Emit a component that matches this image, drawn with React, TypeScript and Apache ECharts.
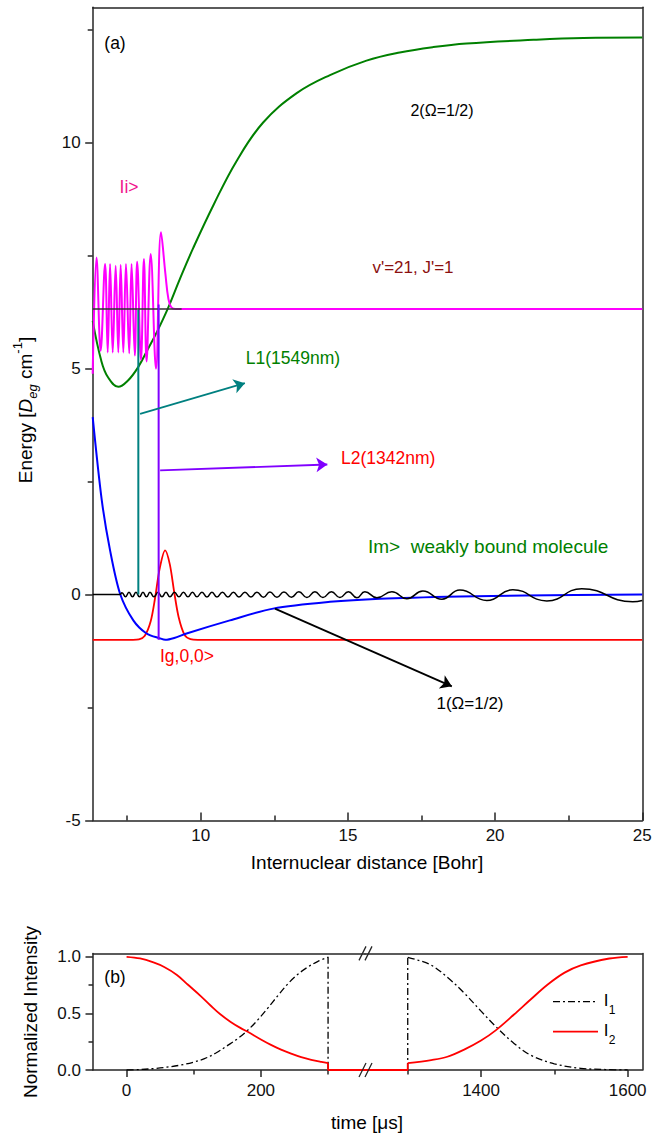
import React, { useEffect, useRef } from 'react';
import * as echarts from 'echarts';

const FONT = '"Liberation Sans", Arial, Helvetica, sans-serif';

// ---------------- panel (a): potentials and wavefunctions ----------------
const distanceTicks = [10, 15, 20, 25];
const distanceMinorTicks = [7.5, 12.5, 17.5, 22.5];
const energyTicks = [-5, 0, 5, 10];
const energyMinorTicks = [-2.5, 2.5, 7.5, 12.5];

// 2(Ω=1/2) upper potential (green)
const upperR = [6.33, 6.62, 6.85, 7.2, 7.53, 7.87, 8.21, 8.5, 8.9, 9.3, 9.75, 10.43, 11.22, 12.12, 13.26, 14.39, 15.63, 16.76, 17.9, 19.03, 21.3, 23, 25];
const upperE = [6.06, 5.18, 4.81, 4.6, 4.74, 5.03, 5.44, 5.8, 6.36, 7.0, 7.68, 8.62, 9.6, 10.45, 11.1, 11.5, 11.82, 12.0, 12.12, 12.2, 12.28, 12.32, 12.33];

// 1(Ω=1/2) lower potential (blue)
const lowerR = [6.33, 6.64, 6.92, 7.26, 7.71, 8.16, 8.62, 8.8, 9.1, 9.52, 10.99, 12.46, 14.39, 16.09, 18.81, 21, 25];
const lowerE = [3.93, 2.08, 0.98, 0.02, -0.57, -0.86, -0.97, -1.0, -0.96, -0.86, -0.57, -0.31, -0.16, -0.09, -0.04, -0.02, 0];

// |g,0,0> wavefunction (red)
const groundR = [6.33, 7.7, 7.9, 8.1, 8.3, 8.45, 8.6, 8.79, 8.95, 9.1, 9.25, 9.45, 9.65, 9.9, 25];
const groundE = [-1, -1, -0.99, -0.91, -0.59, -0.07, 0.56, 0.98, 0.67, 0.05, -0.5, -0.89, -0.985, -1, -1];

// |i> wavefunction (magenta)
const excitedR = [6.33, 6.46, 6.6, 6.75, 6.84, 6.92, 7.01, 7.11, 7.2, 7.28, 7.37, 7.46, 7.57, 7.65, 7.76, 7.84, 7.97, 8.07, 8.16, 8.3, 8.48, 8.65, 8.8, 8.9, 9.0, 9.15, 25];
const excitedE = [4.89, 7.46, 5.4, 7.32, 5.36, 7.32, 5.36, 7.28, 5.36, 7.3, 5.36, 7.32, 5.34, 7.32, 5.29, 7.37, 5.2, 7.43, 5.16, 7.54, 5.0, 8.02, 7.1, 6.55, 6.36, 6.32, 6.32];

// |m> weakly bound molecule wavefunction (black)
const moleculeR = [6.33, 7.247,
  7.325, 7.444, 7.563, 7.681, 7.80, 7.919, 8.038, 8.157, 8.276, 8.412,
  8.547, 8.683, 8.819, 8.955, 9.108, 9.26, 9.413, 9.566, 9.719, 9.872,
  10.041, 10.211, 10.381, 10.551, 10.737, 10.924, 11.111, 11.298, 11.501, 11.705,
  11.909, 12.13, 12.35, 12.588, 12.826, 13.08, 13.335, 13.607, 13.879, 14.15,
  14.439, 14.727, 15.016, 15.305, 15.576, 15.984, 16.493, 17.002, 17.546, 18.191,
  18.802, 19.719, 20.602, 21.756, 22.945, 24.676,
  25];
const moleculeE = [0, 0,
  0.04, -0.05, 0.05, -0.05, 0.05, -0.05, 0.05, -0.05, 0.05, -0.05,
  0.05, -0.05, 0.05, -0.05, 0.05, -0.05, 0.05, -0.05, 0.05, -0.05,
  0.055, -0.055, 0.055, -0.055, 0.055, -0.055, 0.055, -0.055, 0.055, -0.055,
  0.055, -0.06, 0.06, -0.06, 0.06, -0.06, 0.065, -0.065, 0.065, -0.065,
  0.065, -0.065, 0.065, -0.07, 0.065, -0.07, 0.065, -0.09, 0.08, -0.1,
  0.1, -0.13, 0.11, -0.14, 0.13, -0.16,
  -0.13];

// v'=21, J'=1 level (short black line)
const levelR = [6.33, 9.35];
const levelE = 6.32;

// laser transitions (vertical lines) and pointer arrows
const pumpR = 7.88; const pumpFrom = 0; const pumpTo = 6.3;
const dumpR = 8.57; const dumpFrom = -1; const dumpTo = 6.42;
const arrowL1 = [[7.94, 4.0], [11.5, 4.68]];
const arrowL2 = [[8.62, 2.75], [14.3, 2.88]];
const arrowPot = [[12.52, -0.31], [18.53, -2.03]];

// ---------------- panel (b): pulse intensities ----------------
const timeTicksLeft = [0, 200];
const timeMinorLeft = [100, 300];
const timeTicksRight = [1400, 1600];
const timeMinorRight = [1300, 1500];
const intensityTicks = [0, 0.5, 1.0];
const intensityMinor = [0.25, 0.75];

const i1LeftT = [0, 20, 41, 60, 81, 100, 116, 133, 150, 165, 181, 195, 210, 225, 240, 255, 270, 285, 300];
const i1LeftV = [0, 0.004, 0.013, 0.025, 0.044, 0.07, 0.1, 0.15, 0.215, 0.275, 0.355, 0.44, 0.545, 0.655, 0.76, 0.845, 0.91, 0.96, 0.995];
const i2LeftT = [0, 20, 40, 56, 75, 91, 110, 125, 140, 155, 170, 181, 200, 215, 230, 245, 260, 275, 290, 300];
const i2LeftV = [1.0, 0.985, 0.95, 0.91, 0.84, 0.755, 0.655, 0.57, 0.49, 0.425, 0.37, 0.335, 0.27, 0.222, 0.18, 0.145, 0.114, 0.09, 0.071, 0.06];
const i1RightT = [1300, 1314, 1332, 1354, 1377, 1400, 1420, 1445, 1468, 1500, 1536, 1570, 1600];
const i1RightV = [0.995, 0.97, 0.927, 0.82, 0.68, 0.52, 0.385, 0.235, 0.13, 0.055, 0.015, 0.004, 0];
const i2RightT = [1300, 1332, 1354, 1377, 1400, 1420, 1445, 1468, 1491, 1514, 1536, 1575, 1600];
const i2RightV = [0.06, 0.088, 0.117, 0.18, 0.26, 0.35, 0.49, 0.625, 0.755, 0.86, 0.925, 0.985, 1.0];
const pulseCutT = 300;
const pulseOnT = 1300;

const zip = (xs: number[], ys: number[]) => xs.map((x, i) => [x, ys[i]]);

const AX = { color: '#262626', width: 1.5 };
const LBL = { fontFamily: FONT, fontSize: 17, color: '#111' };

function mainAxis(extra: any) {
  return {
    type: 'value',
    splitLine: { show: false },
    axisLine: { show: true, onZero: false, lineStyle: AX },
    ...extra,
  };
}
function minorAxis(extra: any) {
  return {
    type: 'value',
    splitLine: { show: false },
    axisLine: { show: false, onZero: false },
    axisLabel: { show: false },
    ...extra,
  };
}
function lineOnlyAxis(extra: any) {
  return {
    type: 'value',
    splitLine: { show: false },
    axisLine: { show: true, onZero: false, lineStyle: AX },
    axisTick: { show: false },
    axisLabel: { show: false },
    ...extra,
  };
}

function buildOption(): any {
  const top = (s: any) => ({ xAxisIndex: 0, yAxisIndex: 0, symbol: 'none', showSymbol: false, silent: true, ...s });
  const arrow = (coords: number[][], color: string) => ({
    type: 'lines', coordinateSystem: 'cartesian2d', xAxisIndex: 0, yAxisIndex: 0, silent: true,
    symbol: ['none', 'arrow'], symbolSize: 11,
    lineStyle: { color, width: 1.8, opacity: 1, curveness: 0 },
    data: [{ coords }],
    z: 5,
  });
  const dashDot = [7, 3, 2, 3];
  const plain = (v: number) => String(v);
  return {
    animation: false,
    backgroundColor: '#fff',
    grid: [
      { left: 92.7, top: 7.3, width: 549.6, height: 813.2, outerBoundsMode: 'none', containLabel: false },
      { left: 93, top: 953.4, width: 272, height: 116.6, outerBoundsMode: 'none', containLabel: false },
      { left: 365, top: 953.4, width: 277.3, height: 116.6, outerBoundsMode: 'none', containLabel: false },
    ],
    xAxis: [
      mainAxis({ gridIndex: 0, position: 'bottom', min: 6.33, max: 25,
        axisTick: { show: true, inside: true, length: 8, customValues: distanceTicks, lineStyle: AX },
        axisLabel: { customValues: distanceTicks, margin: 6, formatter: plain, ...LBL } }),
      minorAxis({ gridIndex: 0, position: 'bottom', min: 6.33, max: 25,
        axisTick: { show: true, inside: true, length: 5, customValues: distanceMinorTicks, lineStyle: AX } }),
      lineOnlyAxis({ gridIndex: 0, position: 'top', min: 6.33, max: 25 }),

      mainAxis({ gridIndex: 1, position: 'bottom', min: -50, max: 355,
        axisTick: { show: true, inside: false, length: 7, customValues: timeTicksLeft, lineStyle: AX },
        axisLabel: { customValues: timeTicksLeft, margin: 12, formatter: plain, ...LBL } }),
      minorAxis({ gridIndex: 1, position: 'bottom', min: -50, max: 355,
        axisTick: { show: true, inside: false, length: 4.5, customValues: timeMinorLeft, lineStyle: AX } }),
      lineOnlyAxis({ gridIndex: 1, position: 'top', min: -50, max: 355 }),

      mainAxis({ gridIndex: 2, position: 'bottom', min: 1241.7, max: 1620,
        axisTick: { show: true, inside: false, length: 7, customValues: timeTicksRight, lineStyle: AX },
        axisLabel: { customValues: timeTicksRight, margin: 12, formatter: plain, ...LBL } }),
      minorAxis({ gridIndex: 2, position: 'bottom', min: 1241.7, max: 1620,
        axisTick: { show: true, inside: false, length: 4.5, customValues: timeMinorRight, lineStyle: AX } }),
      lineOnlyAxis({ gridIndex: 2, position: 'top', min: 1241.7, max: 1620 }),
    ],
    yAxis: [
      mainAxis({ gridIndex: 0, position: 'left', min: -5, max: 13,
        axisTick: { show: true, inside: false, length: 7.5, customValues: energyTicks, lineStyle: AX },
        axisLabel: { customValues: energyTicks, margin: 12, formatter: plain, ...LBL } }),
      minorAxis({ gridIndex: 0, position: 'left', min: -5, max: 13,
        axisTick: { show: true, inside: false, length: 5, customValues: energyMinorTicks, lineStyle: AX } }),
      lineOnlyAxis({ gridIndex: 0, position: 'right', min: -5, max: 13 }),

      mainAxis({ gridIndex: 1, position: 'left', min: 0, max: 1.03,
        axisTick: { show: true, inside: false, length: 7.5, customValues: intensityTicks, lineStyle: AX },
        axisLabel: { customValues: intensityTicks, margin: 12, formatter: (v: number) => v.toFixed(1), ...LBL } }),
      minorAxis({ gridIndex: 1, position: 'left', min: 0, max: 1.03,
        axisTick: { show: true, inside: false, length: 4.5, customValues: intensityMinor, lineStyle: AX } }),
      lineOnlyAxis({ gridIndex: 2, position: 'right', min: 0, max: 1.03 }),
    ],
    series: [
      top({ type: 'line', name: 'g', data: zip(groundR, groundE), smooth: 0.3, lineStyle: { color: '#FF0000', width: 1.8 } }),
      top({ type: 'line', name: 'lower', data: zip(lowerR, lowerE), smooth: 0.3, lineStyle: { color: '#0000FF', width: 2 } }),
      top({ type: 'line', name: 'm', data: zip(moleculeR, moleculeE), smooth: 0.5, lineStyle: { color: '#000', width: 1.5 } }),
      top({ type: 'line', name: 'upper', data: zip(upperR, upperE), smooth: 0.4, lineStyle: { color: '#008000', width: 2 } }),
      top({ type: 'line', name: 'i', data: zip(excitedR, excitedE), smooth: 0.4, lineStyle: { color: '#FF00FF', width: 2 } }),
      top({ type: 'line', name: 'level', data: levelR.map((r) => [r, levelE]), lineStyle: { color: '#333', width: 1.5 } }),
      top({ type: 'line', name: 'L1', data: [[pumpR, pumpFrom], [pumpR, pumpTo]], lineStyle: { color: '#008080', width: 2 } }),
      top({ type: 'line', name: 'L2', data: [[dumpR, dumpFrom], [dumpR, dumpTo]], lineStyle: { color: '#8000FF', width: 2 } }),
      arrow(arrowL1, '#008080'),
      arrow(arrowL2, '#8000FF'),
      arrow(arrowPot, '#000'),

      // panel (b)
      { type: 'line', xAxisIndex: 3, yAxisIndex: 3, symbol: 'none', silent: true, data: zip(i1LeftT, i1LeftV), smooth: 0.35,
        lineStyle: { color: '#000', width: 1.3, type: dashDot } },
      { type: 'line', xAxisIndex: 3, yAxisIndex: 3, symbol: 'none', silent: true, data: [[pulseCutT, 1.0], [pulseCutT, 0]],
        lineStyle: { color: '#000', width: 1.3, type: dashDot } },
      { type: 'line', xAxisIndex: 3, yAxisIndex: 3, symbol: 'none', silent: true, data: zip(i2LeftT, i2LeftV), smooth: 0.35,
        lineStyle: { color: '#FF0000', width: 1.8 } },
      { type: 'line', xAxisIndex: 3, yAxisIndex: 3, symbol: 'none', silent: true, data: [[pulseCutT, 0.06], [pulseCutT, 0], [355, 0]],
        lineStyle: { color: '#FF0000', width: 1.8 } },

      { type: 'line', xAxisIndex: 6, yAxisIndex: 5, symbol: 'none', silent: true, data: [[pulseOnT, 0], [pulseOnT, 1.0]],
        lineStyle: { color: '#000', width: 1.3, type: dashDot } },
      { type: 'line', xAxisIndex: 6, yAxisIndex: 5, symbol: 'none', silent: true, data: zip(i1RightT, i1RightV), smooth: 0.35,
        lineStyle: { color: '#000', width: 1.3, type: dashDot } },
      { type: 'line', xAxisIndex: 6, yAxisIndex: 5, symbol: 'none', silent: true, data: [[1241.7, 0], [pulseOnT, 0], [pulseOnT, 0.06]],
        lineStyle: { color: '#FF0000', width: 1.8 } },
      { type: 'line', xAxisIndex: 6, yAxisIndex: 5, symbol: 'none', silent: true, data: zip(i2RightT, i2RightV), smooth: 0.35,
        lineStyle: { color: '#FF0000', width: 1.8 } },
    ],
    graphic: {
      elements: [
        txt('(a)', 115, 43, '#000', 17.5),
        txt('Ii>', 129, 187, '#F0148C', 17.5),
        txt('2(Ω=1/2)', 442, 110, '#000', 16),
        txt("v'=21, J'=1", 413, 267, '#8B1010', 17),
        txt('L1(1549nm)', 293, 358, '#008000', 17.5),
        txt('L2(1342nm)', 341, 458, '#FF0000', 17.5, 'left'),
        txt('Im>  weakly bound molecule', 368, 546, '#008000', 19, 'left'),
        txt('Ig,0,0>', 187, 656, '#FF0000', 17.5),
        txt('1(Ω=1/2)', 470, 703, '#000', 17),
        txt('Internuclear distance [Bohr]', 367, 862, '#000', 19),
        {
          type: 'text', x: 25, y: 410, rotation: Math.PI / 2, z: 10,
          style: {
            text: '{n|Energy [}{i|D}{s|eg}{n| cm}{p|-1}{n|]}',
            align: 'center', verticalAlign: 'middle', fill: '#000',
            rich: {
              n: { fontFamily: FONT, fontSize: 19, fill: '#000', lineHeight: 28 },
              i: { fontFamily: FONT, fontSize: 19, fontStyle: 'italic', fill: '#000', lineHeight: 28 },
              s: { fontFamily: FONT, fontSize: 13, fontStyle: 'italic', fill: '#000', lineHeight: 16, verticalAlign: 'bottom' },
              p: { fontFamily: FONT, fontSize: 13, fill: '#000', lineHeight: 16, verticalAlign: 'top' },
            },
          },
        },
        // panel (b)
        txt('(b)', 115, 977, '#000', 17.5),
        txt('time [μs]', 367, 1122, '#000', 19),
        {
          type: 'text', x: 30, y: 1012, rotation: Math.PI / 2, z: 10,
          style: { text: 'Normalized Intensity', align: 'center', verticalAlign: 'middle', fill: '#000', fontFamily: FONT, fontSize: 19 },
        },
        { type: 'line', z: 10, shape: { x1: 553, y1: 1001.7, x2: 598, y2: 1001.7 }, style: { stroke: '#000', lineWidth: 1.3, lineDash: dashDot } },
        { type: 'line', z: 10, shape: { x1: 553, y1: 1031.7, x2: 598, y2: 1031.7 }, style: { stroke: '#FF0000', lineWidth: 1.8 } },
        txt('I', 606, 1000, '#000', 17),
        txt('1', 612, 1010, '#000', 12),
        txt('I', 606, 1030, '#000', 17),
        txt('2', 612, 1040, '#000', 12),
        // axis break marks
        slash(359, 1077, 366, 1063), slash(365, 1077, 372, 1063),
        slash(359, 960.4, 366, 946.4), slash(365, 960.4, 372, 946.4),
      ],
    },
  };
}

function txt(text: string, x: number, y: number, color: string, size: number, align = 'center') {
  return {
    type: 'text', x, y, z: 10,
    style: { text, fill: color, fontFamily: FONT, fontSize: size, align, verticalAlign: 'middle' },
  };
}
function slash(x1: number, y1: number, x2: number, y2: number) {
  return { type: 'line', z: 10, shape: { x1, y1, x2, y2 }, style: { stroke: '#222', lineWidth: 1.3 } };
}

export default function App() {
  const ref = useRef<HTMLDivElement>(null);
  useEffect(() => {
    const chart = echarts.init(ref.current!, null, { renderer: 'svg' });
    chart.setOption(buildOption());
    return () => chart.dispose();
  }, []);
  return (
    <div
      ref={ref}
      style={{ position: 'absolute', left: 0, top: 0, width: 665, height: 1135, background: '#fff' }}
    />
  );
}
